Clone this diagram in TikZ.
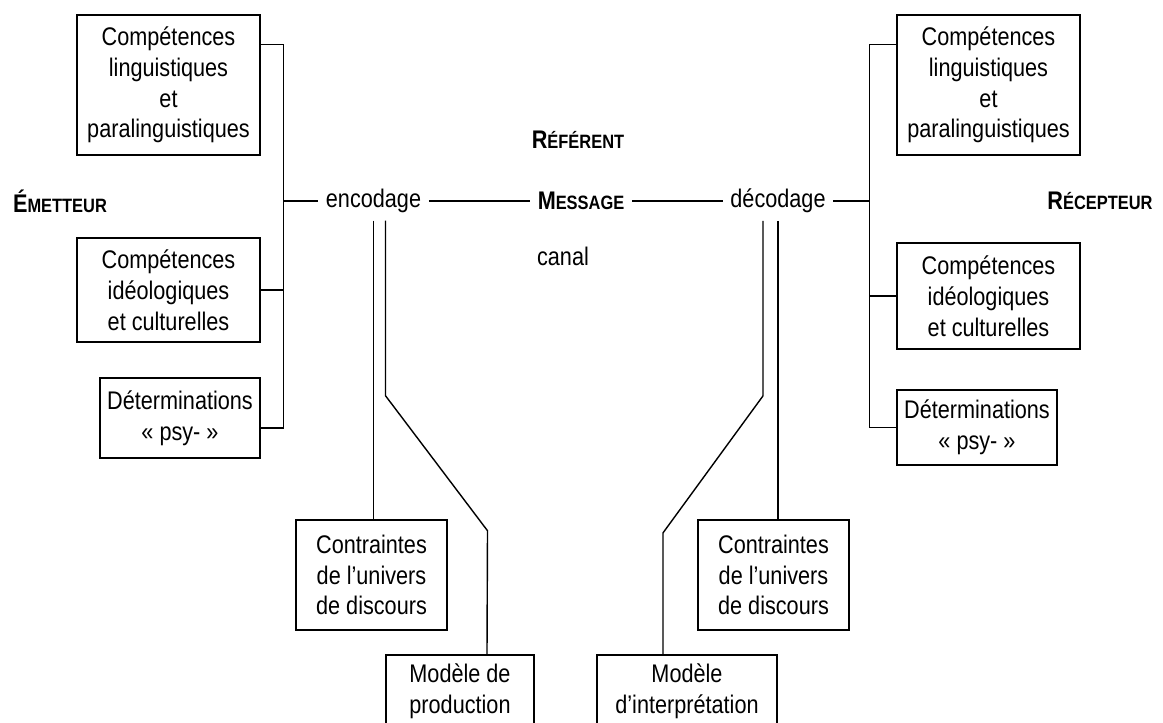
\documentclass[tikz,border=0pt]{standalone}
\usepackage{fontspec}
\setmainfont{Liberation Sans}[FakeStretch=0.85]
\usepackage{tikz}
\newcommand{\fauxsc}[2]{\textbf{#1{\fontsize{11pt}{12pt}\selectfont #2}}}

\begin{document}
\begin{tikzpicture}[
    x=0.02cm, y=-0.02cm,
    box/.style={draw, rectangle, line width=0.8pt, align=center, inner sep=0pt, font=\fontsize{14.5pt}{17.5pt}\selectfont},
    word/.style={inner sep=0.15cm, font=\fontsize{14.5pt}{17pt}\selectfont},
    link/.style={line width=0.8pt}
]
\useasboundingbox (0,0) rectangle (1163,723);

% Nodes
\node[word] (emet) at (60, 201) {\fauxsc{É}{METTEUR}};
\node[word] (recep) at (1100, 201) {\fauxsc{R}{ÉCEPTEUR}};
\node[word] (ref) at (578, 140) {\fauxsc{R}{ÉFÉRENT}};
\node[word] (msg) at (581, 201) {\fauxsc{M}{ESSAGE}};
\node[word] (canal) at (563, 256) {canal};
\node[word] (enc) at (373.5, 201) {encodage};
\node[word] (dec) at (778, 201) {décodage};

\node[box, minimum width=3.66cm, minimum height=2.8cm] (compl1) at (168.5, 85) {Compétences\\linguistiques\\et\\paralinguistiques};
\node[box, minimum width=3.66cm, minimum height=2.08cm] (compl2) at (168.5, 290) {Compétences\\idéologiques\\et culturelles};
\node[box, minimum width=3.2cm, minimum height=1.6cm] (detl) at (180, 418) {Déterminations\\«~psy-~»};

\node[box, minimum width=3.66cm, minimum height=2.8cm] (compr1) at (988.5, 85) {Compétences\\linguistiques\\et\\paralinguistiques};
\node[box, minimum width=3.66cm, minimum height=2.12cm] (compr2) at (988.5, 296) {Compétences\\idéologiques\\et culturelles};
\node[box, minimum width=3.2cm, minimum height=1.5cm] (detr) at (977, 427.5) {Déterminations\\«~psy-~»};

\node[box, minimum width=3.02cm, minimum height=2.2cm] (contl) at (371.5, 575) {Contraintes\\de l'univers\\de discours};
\node[box, minimum width=3.02cm, minimum height=2.2cm] (contr) at (773.5, 575) {Contraintes\\de l'univers\\de discours};
\node[box, minimum width=2.96cm, minimum height=1.44cm] (prod) at (460, 691) {Modèle de\\production};
\node[box, minimum width=3.6cm, minimum height=1.44cm] (interp) at (687, 691) {Modèle\\d'interprétation};

\coordinate (embr) at (283, 201);
\coordinate (rebr) at (870, 201);

% Connections
\draw[link] ([yshift=-0.6cm]compl1.north east) -- ++(23,0) |- ([yshift=-0.2cm]detl.east);
\draw[link] (compl2.east) -- (compl2.east -| embr);
\draw[link] (embr) -- (enc.west);
\draw[link] (enc.east) -- (msg.west);
\draw[link] (msg.east) -- (dec.west);
\draw[link] (dec.east) -- (rebr);
\draw[link] ([yshift=-0.6cm]compr1.north west) -- ++(-27,0) |- (detr.west);
\draw[link] (compr2.west) -- (compr2.west -| rebr);

\draw[link] (enc.south) -- (enc.south |- contl.north);
\draw[link] ([xshift=0.24cm]enc.south) -- ++(0,175) -- ++(102,135) -- ([xshift=0.54cm]prod.north);
\draw[link] (dec.south) -- (dec.south |- contr.north);
\draw[link] ([xshift=-0.3cm]dec.south) -- ++(0,175) -- ++(-100,137) -- ([xshift=-0.48cm]interp.north);

\end{tikzpicture}
\end{document}
